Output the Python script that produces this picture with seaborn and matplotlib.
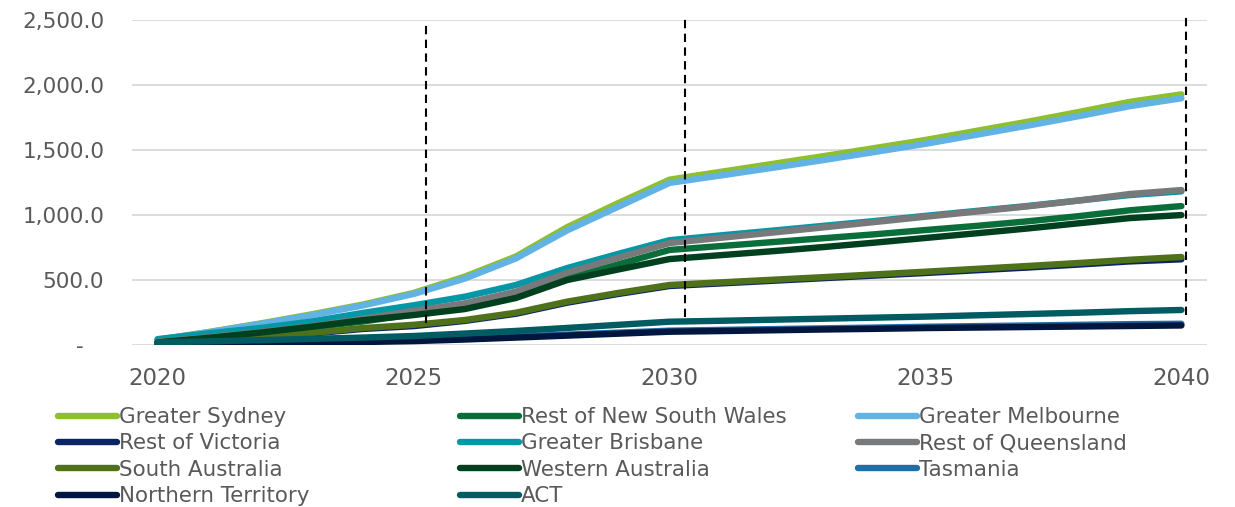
import matplotlib
matplotlib.use("Agg")
import matplotlib.pyplot as plt
from matplotlib.lines import Line2D
import numpy as np
import pandas as pd
import seaborn as sns

# ---------------- data ----------------
years = list(range(2020, 2041))

greater_sydney = [40, 100, 165, 235, 310, 400, 525, 680, 905, 1090, 1270,
                  1330, 1390, 1450, 1512, 1575, 1645, 1715, 1790, 1868, 1925]
rest_nsw = [25, 60, 95, 135, 180, 235, 290, 380, 510, 620, 730,
            760, 790, 820, 850, 883, 915, 950, 990, 1035, 1067]
greater_melbourne = [40, 98, 162, 228, 303, 392, 510, 665, 880, 1062, 1245,
                     1302, 1360, 1420, 1482, 1545, 1615, 1685, 1758, 1835, 1895]
rest_vic = [18, 32, 55, 87, 123, 145, 185, 240, 325, 392, 453,
            473, 493, 513, 533, 553, 574, 595, 618, 642, 658]
greater_brisbane = [45, 90, 130, 180, 246, 305, 371, 461, 591, 700, 805,
                    842, 878, 915, 952, 992, 1030, 1068, 1110, 1152, 1180]
rest_qld = [25, 60, 100, 145, 200, 262, 320, 410, 555, 670, 783,
            823, 863, 903, 944, 985, 1025, 1065, 1110, 1160, 1190]
south_australia = [20, 35, 60, 92, 130, 155, 192, 248, 333, 400, 461,
                   481, 501, 521, 542, 563, 585, 607, 630, 655, 676]
western_australia = [20, 55, 95, 140, 190, 230, 276, 361, 499, 580, 660,
                     690, 720, 752, 786, 822, 858, 895, 935, 975, 998]
tasmania = [6, 10, 15, 21, 28, 36, 50, 65, 80, 95, 110,
            116, 122, 128, 134, 140, 145, 150, 155, 160, 163]
northern_territory = [5, 8, 12, 17, 23, 30, 42, 57, 72, 87, 102,
                      107, 113, 119, 124, 130, 134, 138, 142, 146, 150]
act = [20, 28, 37, 47, 57, 69, 88, 108, 131, 155, 179,
       186, 194, 202, 210, 218, 228, 238, 248, 260, 269]

series_names = ["Greater Sydney", "Rest of New South Wales", "Greater Melbourne",
                "Rest of Victoria", "Greater Brisbane", "Rest of Queensland",
                "South Australia", "Western Australia", "Tasmania",
                "Northern Territory", "ACT"]
series_values = [greater_sydney, rest_nsw, greater_melbourne, rest_vic,
                 greater_brisbane, rest_qld, south_australia, western_australia,
                 tasmania, northern_territory, act]
series_colors = ["#8DBF2E", "#0A6E3A", "#62B3E4", "#0B2466", "#0697A6", "#77797B",
                 "#4E7119", "#00401F", "#1F6FA6", "#00163F", "#005B62"]

y_ticks = [0, 500, 1000, 1500, 2000, 2500]
y_tick_labels = ["-   ", "500.0", "1,000.0", "1,500.0", "2,000.0", "2,500.0"]
x_ticks = [2020, 2025, 2030, 2035, 2040]

# dashed reference markers (x position, y bottom, y top)
ref_lines = [(2025.24, 169, 2458), (2030.31, 218, 2522), (2040.08, 230, 2522)]

# ---------------- build frame ----------------
rows = []
for name, vals in zip(series_names, series_values):
    for yr, v in zip(years, vals):
        rows.append({"year": yr, "value": v, "series": name})
df = pd.DataFrame(rows)
palette = dict(zip(series_names, series_colors))

sns.set_theme(style="white")
plt.rcParams["font.family"] = ["DejaVu Sans"]

fig = plt.figure(figsize=(12.35, 5.07), dpi=100)
ax = fig.add_axes([132 / 1235, 1 - 345 / 507, (1207 - 132) / 1235, (345 - 19.5) / 507])

LW = 4.6
sns.lineplot(data=df, x="year", y="value", hue="series", hue_order=series_names,
             palette=palette, linewidth=LW, legend=False, ax=ax,
             estimator=None, sort=False)
for ln in ax.get_lines():
    ln.set_solid_capstyle("round")
    ln.set_solid_joinstyle("round")

for x, y0, y1 in ref_lines:
    ax.plot([x, x], [y0, y1], color="black", lw=1.5, linestyle=(0, (4, 2.6)),
            clip_on=False, zorder=10)

ax.set_xlim(2019.5, 2040.5)
ax.set_ylim(0, 2500)
ax.set_xticks(x_ticks)
ax.set_xticklabels([str(t) for t in x_ticks])
ax.set_yticks(y_ticks)
ax.set_yticklabels(y_tick_labels)
ax.tick_params(axis="both", length=0, labelcolor="#595959")
ax.tick_params(axis="y", pad=20, labelsize=15.5)
ax.tick_params(axis="x", pad=16, labelsize=16.5)
ax.set_xlabel("")
ax.set_ylabel("")
ax.yaxis.grid(True, color="#D9D9D9", linewidth=1.3)
ax.xaxis.grid(False)
ax.set_axisbelow(True)
for s in ax.spines.values():
    s.set_visible(False)

# ---------------- legend (3 columns) ----------------
handles = {n: Line2D([0], [0], color=c, lw=LW, solid_capstyle="round")
           for n, c in zip(series_names, series_colors)}
columns = [series_names[0::3], series_names[1::3], series_names[2::3]]
col_x = [58, 460, 858]
for names, cx in zip(columns, col_x):
    fig.legend(handles=[handles[n] for n in names], labels=names,
               loc="upper left", bbox_to_anchor=(cx / 1235, 1 - 407 / 507),
               frameon=False, fontsize=15.4, handlelength=2.75, handletextpad=0.1,
               labelspacing=0.3, borderpad=0, borderaxespad=0,
               labelcolor="#595959")

fig.savefig("out.png", dpi=100)
